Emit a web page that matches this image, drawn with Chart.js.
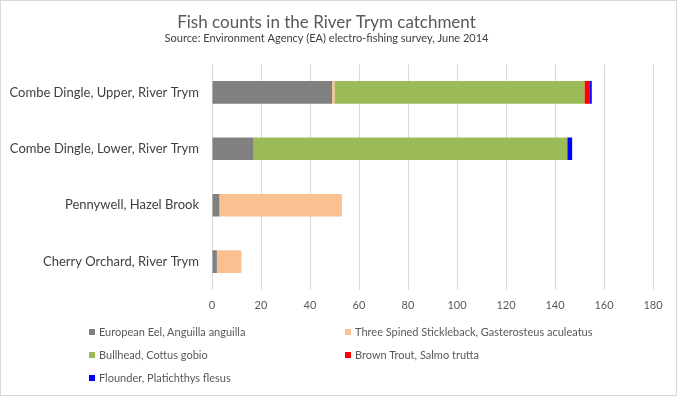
<!DOCTYPE html>
<html>
<head>
<meta charset="utf-8">
<script src="https://cdn.jsdelivr.net/npm/chart.js@4.4.0/dist/chart.umd.min.js"></script>
<style>
  body { margin: 0; background: #fff; font-family: Lato, "Noto Sans", sans-serif; }
  #box { position: absolute; left: 0; top: 0; width: 677px; height: 396px; box-sizing: border-box; border: 1px solid #d9d9d9; }
  #grafica { position: absolute; left: 0; top: 0; }
  #leyenda { position: absolute; left: 89px; top: 325px; width: 560px; font-size: 11px; color: #595959; }
  .item { position: absolute; white-space: nowrap; line-height: 14px; }
  .item span { display: inline-block; width: 6px; height: 6px; margin-right: 4px; vertical-align: 1px; }
</style>
</head>
<body>
<div id="box"></div>
<canvas id="grafica" width="677" height="396"></canvas>
<div id="leyenda"></div>
<script>
// Conteo de peces, encuesta EA junio 2014
var sitios = ['Combe Dingle, Upper, River Trym', 'Combe Dingle, Lower, River Trym', 'Pennywell, Hazel Brook', 'Cherry Orchard, River Trym'];
var especies = ['European Eel, Anguilla anguilla', 'Three Spined Stickleback, Gasterosteus aculeatus', 'Bullhead, Cottus gobio', 'Brown Trout, Salmo trutta', 'Flounder, Platichthys flesus'];
var anguila = [49, 17, 3, 2];
var espinoso = [1, 0, 50, 10];
var coto = [102, 128, 0, 0];
var trucha = [2, 0, 0, 0];
var platija = [1, 2, 0, 0];
var colores = ['#808080', '#fac090', '#9bbb59', '#ff0000', '#0000ff'];
var ticksX = [0, 20, 40, 60, 80, 100, 120, 140, 160, 180];

var series = [anguila, espinoso, coto, trucha, platija];
var conjuntos = series.map(function (valores, i) {
    return {
        label: especies[i],
        data: valores,
        backgroundColor: colores[i],
        borderWidth: 0,
        barPercentage: 0.4,
        categoryPercentage: 1
    };
});

var ctx = document.getElementById('grafica').getContext('2d');
var myChart = new Chart(ctx, {
    type: 'bar',
    data: { labels: sitios, datasets: conjuntos },
    options: {
        indexAxis: 'y',
        responsive: false,
        animation: false,
        layout: { padding: { left: 0, right: 24, top: 0, bottom: 75 } },
        plugins: {
            legend: { display: false },
            tooltip: { enabled: false },
            title: {
                display: true,
                text: 'Fish counts in the River Trym catchment',
                color: '#595959',
                font: { family: 'Lato', size: 17, weight: 'normal', lineHeight: 1 },
                padding: { top: 14, bottom: 0 }
            },
            subtitle: {
                display: true,
                text: 'Source: Environment Agency (EA) electro-fishing survey, June 2014',
                color: '#404040',
                font: { family: 'Lato', size: 11 },
                padding: { top: 1, bottom: 19 }
            }
        },
        scales: {
            x: {
                stacked: true,
                min: ticksX[0],
                max: ticksX[ticksX.length - 1],
                afterBuildTicks: function (scale) {
                    scale.ticks = ticksX.map(function (v) { return { value: v }; });
                },
                grid: { color: '#d9d9d9', drawTicks: false },
                border: { display: false },
                ticks: { color: '#595959', font: { family: 'Lato', size: 11 }, padding: 9 }
            },
            y: {
                stacked: true,
                afterFit: function (scale) { scale.width = 212; },
                grid: { display: false, drawTicks: false },
                border: { display: false },
                ticks: { color: '#404040', font: { family: 'Lato', size: 13 }, padding: 13 }
            }
        }
    }
});

// leyenda en dos columnas
var leyenda = document.getElementById('leyenda');
especies.forEach(function (nombre, i) {
    var div = document.createElement('div');
    div.className = 'item';
    div.style.left = (i % 2 === 0 ? 0 : 256) + 'px';
    div.style.top = (Math.floor(i / 2) * 23) + 'px';
    div.innerHTML = '<span style="background:' + colores[i] + '"></span>' + nombre;
    leyenda.appendChild(div);
});
</script>
</body>
</html>
